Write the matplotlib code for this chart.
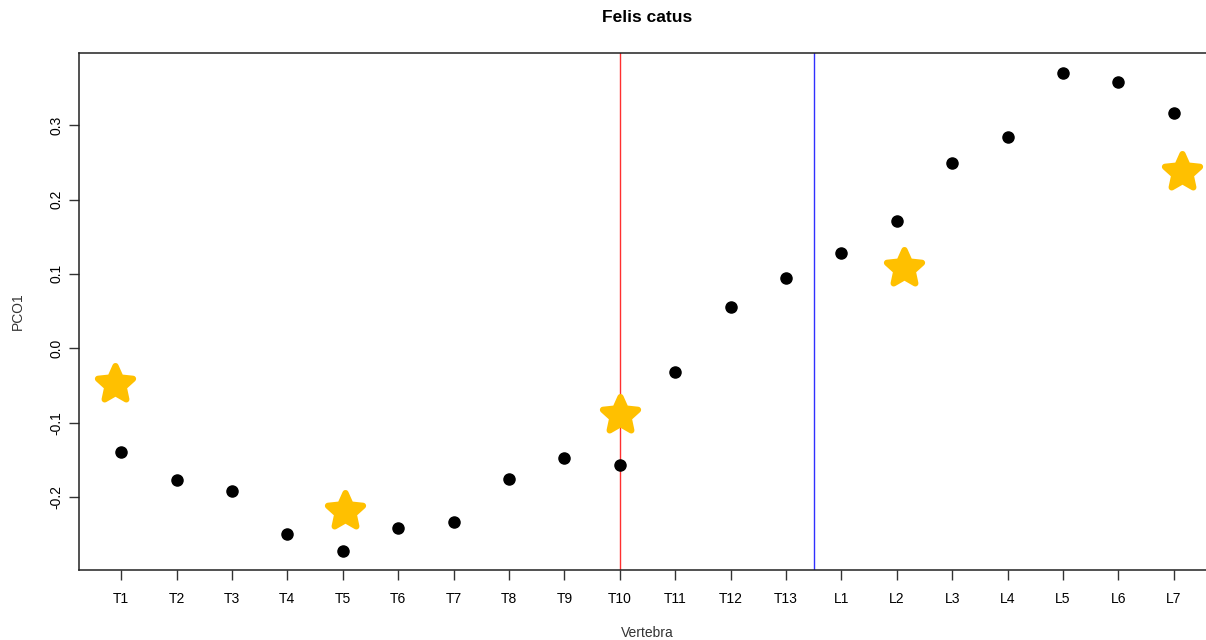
import matplotlib
matplotlib.use("Agg")
import matplotlib.pyplot as plt
from matplotlib.markers import MarkerStyle
from matplotlib.path import Path
import numpy as np

plt.rcParams['font.family'] = ['Liberation Sans', 'DejaVu Sans']

vertebrae = ["T1", "T2", "T3", "T4", "T5", "T6", "T7", "T8", "T9", "T10",
             "T11", "T12", "T13", "L1", "L2", "L3", "L4", "L5", "L6", "L7"]
pco1 = [-0.140, -0.177, -0.192, -0.249, -0.272, -0.242, -0.234, -0.175, -0.148, -0.157,
        -0.032, 0.055, 0.095, 0.128, 0.171, 0.249, 0.284, 0.370, 0.358, 0.317]

# highlighted reference points (position along vertebral index, PCO1)
star_pos = [0.89, 5.04, 10.0, 15.13, 20.14]
star_val = [-0.048, -0.219, -0.089, 0.108, 0.237]

red_line = 10.0
blue_line = 13.5

W, H = 1206, 640
fig = plt.figure(figsize=(W / 100, H / 100), dpi=100)
left, right, top, bottom = 79, 1216, 53, 570
ax = fig.add_axes([left / W, 1 - bottom / H, (right - left) / W, (bottom - top) / H])

idx = np.arange(1, len(vertebrae) + 1)
ax.axvline(red_line, color="#ff3030", lw=1.0, zorder=1)
ax.axvline(blue_line, color="#3030ff", lw=1.0, zorder=1)
ax.plot(idx, pco1, "o", color="black", markersize=8, zorder=3)

# plump five-pointed star with rounded tips
star = MarkerStyle(Path.unit_regular_star(5, innerCircle=0.47), joinstyle="round")
ax.plot(star_pos, star_val, linestyle="none", marker=star, color="#FFC000",
        markersize=26.5, markeredgewidth=4.5, markeredgecolor="#FFC000", zorder=4)

ax.set_xlim(0.24, 20.76)
ax.set_ylim(-0.298, 0.397)
ax.set_xticks(idx)
ax.set_xticklabels(vertebrae, fontsize=10)
ax.set_yticks([-0.2, -0.1, 0.0, 0.1, 0.2, 0.3])
ax.set_yticklabels(["-0.2", "-0.1", "0.0", "0.1", "0.2", "0.3"], fontsize=10,
                   rotation=90, va="center")
ax.tick_params(axis="both", length=7, width=1, color="#333333")
ax.tick_params(axis="x", pad=9)
ax.tick_params(axis="y", pad=4)
ax.spines["right"].set_visible(False)
for s in ax.spines.values():
    s.set_linewidth(1.1)
    s.set_color("#222222")

fig.text((left + right) / 2 / W, 1 - 18 / H, "Felis catus", ha="center", va="center",
         fontsize=12.5, fontweight="bold")
fig.text((left + right) / 2 / W, 1 - 633 / H, "Vertebra", ha="center", va="center",
         fontsize=10, color="#333333")
fig.text(18 / W, 1 - 311 / H, "PCO1", ha="center", va="center", rotation=90,
         fontsize=10, color="#333333")

fig.savefig("out.png", dpi=100)
